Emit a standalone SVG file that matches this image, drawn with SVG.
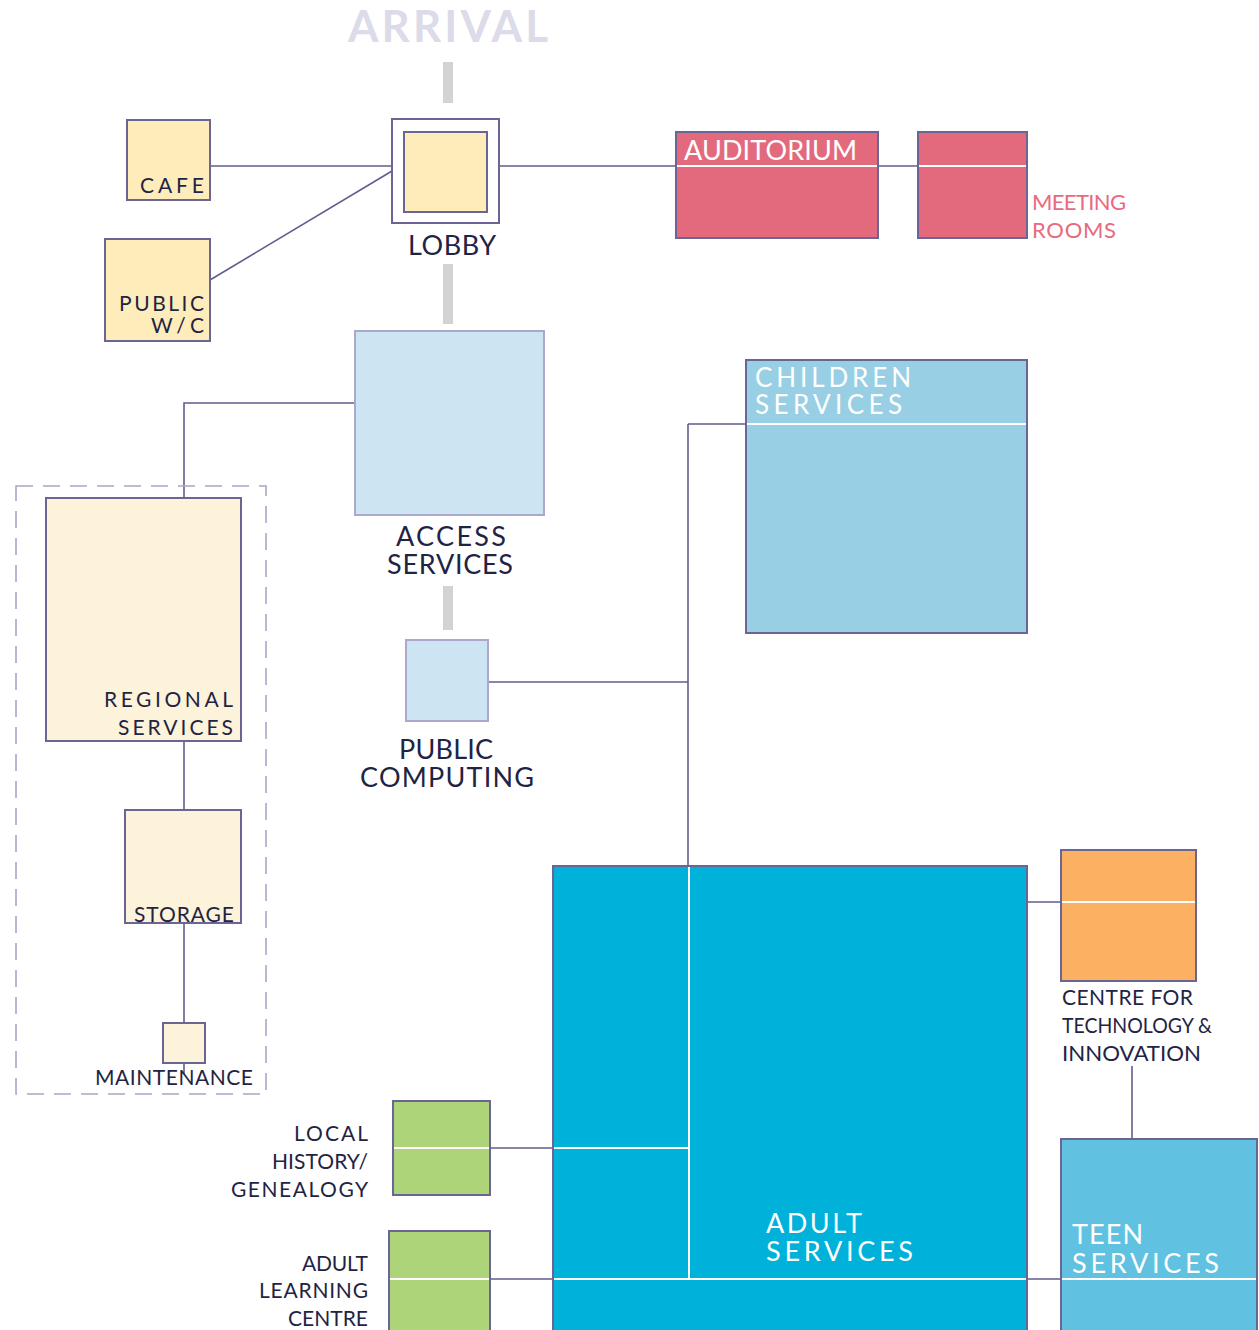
<svg xmlns="http://www.w3.org/2000/svg" width="1259" height="1330" viewBox="0 0 1259 1330">
  <style>
    .box { stroke: #6b6596; stroke-width: 2; }
    .soft { stroke: #aaa8cd; stroke-width: 2; }
    .cream { fill: #feecbb; }
    .paper { fill: #fdf2da; }
    .pink { fill: #e36a7d; }
    .pale { fill: #cde4f2; }
    .sky { fill: #98cfe5; }
    .cyan { fill: #00b1d9; }
    .teen { fill: #61c1e1; }
    .green { fill: #aed47a; }
    .orange { fill: #fbb062; }
    .link { stroke: #615c8d; stroke-width: 1.6; fill: none; }
    .split { stroke: #ffffff; stroke-width: 2; }
    .flow { fill: #d3d3d3; }
    text { font-family: Lato, "Open Sans", "Liberation Sans", sans-serif; }
    .lbl { fill: #1f2444; font-size: 27px; }
    .sm { fill: #1f2444; font-size: 21px; }
    .wt { fill: #ffffff; font-size: 27px; }
  </style>

  <!-- arrival heading and circulation bars -->
  <text x="348" y="42" textLength="200" lengthAdjust="spacing" style="font-size:44px;font-weight:bold;fill:#dcdbe9">ARRIVAL</text>
  <rect class="flow" x="443" y="62" width="10" height="41"/>
  <rect class="flow" x="443" y="264" width="10" height="60"/>
  <rect class="flow" x="443" y="586" width="10" height="44"/>

  <!-- connectors -->
  <g id="connectors">
    <line class="link" x1="210" y1="166" x2="392" y2="166"/>
    <line class="link" x1="210" y1="280" x2="392" y2="171"/>
    <line class="link" x1="499" y1="166" x2="676" y2="166"/>
    <line class="link" x1="878" y1="166" x2="918" y2="166"/>
    <polyline class="link" points="355,403 184,403 184,498"/>
    <line class="link" x1="184" y1="741" x2="184" y2="810"/>
    <line class="link" x1="184" y1="923" x2="184" y2="1074"/>
    <line class="link" x1="488" y1="682" x2="688" y2="682"/>
    <line class="link" x1="688" y1="424" x2="688" y2="866"/>
    <line class="link" x1="688" y1="424" x2="746" y2="424"/>
    <line class="link" x1="1027" y1="902" x2="1061" y2="902"/>
    <line class="link" x1="1132" y1="1066" x2="1132" y2="1139"/>
    <line class="link" x1="490" y1="1148" x2="553" y2="1148"/>
    <line class="link" x1="490" y1="1279" x2="553" y2="1279"/>
    <line class="link" x1="1027" y1="1279" x2="1061" y2="1279"/>
  </g>

  <g id="cafe">
    <rect class="box cream" x="127" y="120" width="83" height="80"/>
    <text class="sm" x="140" y="193" textLength="64" lengthAdjust="spacing">CAFE</text>
  </g>

  <g id="public-wc">
    <rect class="box cream" x="105" y="239" width="105" height="102"/>
    <text class="sm" x="119" y="311" textLength="85" lengthAdjust="spacing">PUBLIC</text>
    <text class="sm" x="151" y="333" textLength="53" lengthAdjust="spacing">W/C</text>
  </g>

  <g id="lobby">
    <rect class="box" fill="#ffffff" x="392" y="119" width="107" height="104"/>
    <rect class="box cream" x="404" y="132" width="83" height="80"/>
    <text class="lbl" x="408" y="255" textLength="88" lengthAdjust="spacing">LOBBY</text>
  </g>

  <g id="auditorium">
    <rect class="box pink" x="676" y="132" width="202" height="106"/>
    <line class="split" x1="677" y1="166" x2="877" y2="166"/>
    <text class="wt" x="684" y="160" textLength="173" lengthAdjust="spacing">AUDITORIUM</text>
  </g>

  <g id="meeting-rooms">
    <rect class="box pink" x="918" y="132" width="109" height="106"/>
    <line class="split" x1="919" y1="166" x2="1026" y2="166"/>
    <text x="1032" y="210" textLength="94" lengthAdjust="spacing" style="font-size:22px;fill:#e96a80">MEETING</text>
    <text x="1032" y="238" textLength="84" lengthAdjust="spacing" style="font-size:22px;fill:#e96a80">ROOMS</text>
  </g>

  <g id="access-services">
    <rect class="soft pale" x="355" y="331" width="189" height="184"/>
    <text class="lbl" x="396" y="546" textLength="110" lengthAdjust="spacing">ACCESS</text>
    <text class="lbl" x="387" y="574" textLength="126" lengthAdjust="spacing">SERVICES</text>
  </g>

  <g id="public-computing">
    <rect class="soft pale" x="406" y="640" width="82" height="81"/>
    <text class="lbl" x="399" y="759" textLength="94" lengthAdjust="spacing">PUBLIC</text>
    <text class="lbl" x="360" y="787" textLength="174" lengthAdjust="spacing">COMPUTING</text>
  </g>

  <g id="children-services">
    <rect class="box sky" x="746" y="360" width="281" height="273"/>
    <line class="split" x1="747" y1="424" x2="1026" y2="424"/>
    <text class="wt" x="755" y="387" textLength="156" lengthAdjust="spacing" style="font-size:26px">CHILDREN</text>
    <text class="wt" x="755" y="414" textLength="147" lengthAdjust="spacing" style="font-size:26px">SERVICES</text>
  </g>

  <!-- support zone outline -->
  <rect x="16" y="486" width="250" height="608" fill="none" stroke="#a9a6c8" stroke-width="1.6" stroke-dasharray="17 10"/>

  <g id="regional-services">
    <rect class="box paper" x="46" y="498" width="195" height="243"/>
    <text class="sm" x="104" y="707" textLength="129" lengthAdjust="spacing">REGIONAL</text>
    <text class="sm" x="118" y="735" textLength="115" lengthAdjust="spacing">SERVICES</text>
  </g>

  <g id="storage">
    <rect class="box paper" x="125" y="810" width="116" height="113"/>
    <text class="sm" x="134" y="922" textLength="100" lengthAdjust="spacing">STORAGE</text>
  </g>

  <g id="maintenance">
    <rect class="box paper" x="163" y="1023" width="42" height="40"/>
    <text class="sm" x="95" y="1085" textLength="158" lengthAdjust="spacing">MAINTENANCE</text>
  </g>

  <g id="adult-services">
    <rect class="box cyan" x="553" y="866" width="474" height="470"/>
    <line class="split" x1="689" y1="867" x2="689" y2="1278"/>
    <line class="split" x1="554" y1="1148" x2="689" y2="1148"/>
    <line class="split" x1="554" y1="1279" x2="1026" y2="1279"/>
    <text class="wt" x="766" y="1233" textLength="96" lengthAdjust="spacing">ADULT</text>
    <text class="wt" x="766" y="1261" textLength="147" lengthAdjust="spacing">SERVICES</text>
  </g>

  <g id="technology-innovation">
    <rect class="box orange" x="1061" y="850" width="135" height="131"/>
    <line class="split" x1="1062" y1="902" x2="1195" y2="902"/>
    <text class="sm" x="1062" y="1005" textLength="131" lengthAdjust="spacing">CENTRE FOR</text>
    <text class="sm" x="1062" y="1033" textLength="150" lengthAdjust="spacingAndGlyphs">TECHNOLOGY &amp;</text>
    <text class="sm" x="1062" y="1061" textLength="139" lengthAdjust="spacingAndGlyphs">INNOVATION</text>
  </g>

  <g id="teen-services">
    <rect class="box teen" x="1061" y="1139" width="196" height="197"/>
    <line class="split" x1="1062" y1="1279" x2="1256" y2="1279"/>
    <text class="wt" x="1072" y="1244" textLength="71" lengthAdjust="spacing">TEEN</text>
    <text class="wt" x="1072" y="1273" textLength="147" lengthAdjust="spacing">SERVICES</text>
  </g>

  <g id="local-history">
    <rect class="box green" x="393" y="1101" width="97" height="94"/>
    <line class="split" x1="394" y1="1148" x2="489" y2="1148"/>
    <text class="sm" x="294" y="1141" textLength="74" lengthAdjust="spacing">LOCAL</text>
    <text class="sm" x="272" y="1169" textLength="96" lengthAdjust="spacing">HISTORY/</text>
    <text class="sm" x="231" y="1197" textLength="137" lengthAdjust="spacing">GENEALOGY</text>
  </g>

  <g id="adult-learning">
    <rect class="box green" x="389" y="1231" width="101" height="105"/>
    <line class="split" x1="390" y1="1279" x2="489" y2="1279"/>
    <text class="sm" x="302" y="1271" textLength="66" lengthAdjust="spacing">ADULT</text>
    <text class="sm" x="259" y="1298" textLength="109" lengthAdjust="spacing">LEARNING</text>
    <text class="sm" x="288" y="1326" textLength="80" lengthAdjust="spacing">CENTRE</text>
  </g>
</svg>
